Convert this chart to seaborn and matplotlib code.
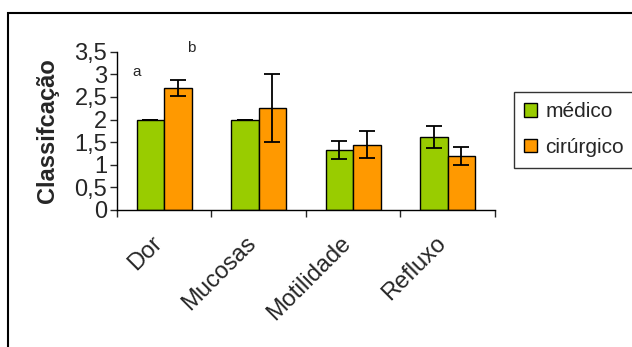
import numpy as np
import pandas as pd
import seaborn as sns
import matplotlib.pyplot as plt
from matplotlib.patches import Rectangle

categorias = ["Dor", "Mucosas", "Motilidade", "Refluxo"]
grupos = ["médico", "cirúrgico"]
medico = [2.0, 2.0, 1.33, 1.61]
medico_err = [0.0, 0.0, 0.2, 0.24]
cirurgico = [2.7, 2.25, 1.44, 1.2]
cirurgico_err = [0.18, 0.75, 0.3, 0.2]
cores = ["#99CC00", "#FF9900"]

df = pd.DataFrame({
    "cat": categorias * 2,
    "grupo": [grupos[0]] * 4 + [grupos[1]] * 4,
    "valor": medico + cirurgico,
})
erros = [medico_err, cirurgico_err]

sns.set_style("white")
plt.rcParams['font.family'] = ['Liberation Sans', 'DejaVu Sans']

fig = plt.figure(figsize=(6.32, 3.47), dpi=100)
ax = fig.add_axes([0.185, 0.395, 0.598, 0.456])

sns.barplot(data=df, x="cat", y="valor", hue="grupo", palette=cores,
            errorbar=None, width=0.58, edgecolor="black", linewidth=1,
            saturation=1, ax=ax)

for cont, err in zip(ax.containers, erros):
    xs = [p.get_x() + p.get_width() / 2 for p in cont]
    ys = [p.get_height() for p in cont]
    ax.errorbar(xs, ys, yerr=err, fmt="none", ecolor="black",
                elinewidth=1.3, capsize=6, capthick=1.3)

n = len(categorias)
ax.set_ylim(0, 3.5)
ax.set_xlim(-0.5, n - 0.5)
ax.set_yticks([0, 0.5, 1, 1.5, 2, 2.5, 3, 3.5])
ax.set_yticklabels(["0", "0,5", "1", "1,5", "2", "2,5", "3", "3,5"], fontsize=17)
ax.set_xticks(np.arange(n + 1) - 0.5, minor=False)
ax.set_xticklabels([])
# rotated labels sit a bit left of the category centre, like the original
ax.set_xticks(np.arange(n) - 0.14, minor=True)
ax.set_xticklabels(categorias, minor=True, rotation=45, ha="right",
                   rotation_mode="anchor", fontsize=17)
ax.tick_params(axis="x", which="minor", length=0, pad=16)
ax.tick_params(axis="x", which="major", direction="out", length=5, width=1, bottom=True)
ax.tick_params(axis="y", direction="out", length=5, width=1, left=True, pad=2)
ax.set_xlabel("")
ax.set_ylabel("Classifcação", fontsize=17, fontweight="bold", labelpad=11)
sns.despine(ax=ax)
for s in ["left", "bottom"]:
    ax.spines[s].set_color("black")
    ax.spines[s].set_linewidth(1)

ax.text(-0.29, 2.97, "a", fontsize=11, ha="center")
ax.text(0.29, 3.5, "b", fontsize=11, ha="center", clip_on=False)

ax.legend_.remove()
handles = [Rectangle((0, 0), 1, 1, facecolor=c, edgecolor="black", linewidth=1) for c in cores]
leg = fig.legend(handles, grupos, loc="upper left", bbox_to_anchor=(514 / 632, 1 - 92 / 347),
                 fontsize=15, frameon=True, fancybox=False, handlelength=0.6,
                 handleheight=0.6, handletextpad=0.4, borderpad=0.5, labelspacing=0.8,
                 borderaxespad=0)
leg.get_frame().set_edgecolor("black")
leg.get_frame().set_linewidth(1)

fig.patches.append(Rectangle((8 / 632, -0.1), 1.2, 1.1 - 13 / 347, transform=fig.transFigure,
                             fill=False, edgecolor="black", linewidth=1.5))

plt.savefig("out.png", dpi=100)
